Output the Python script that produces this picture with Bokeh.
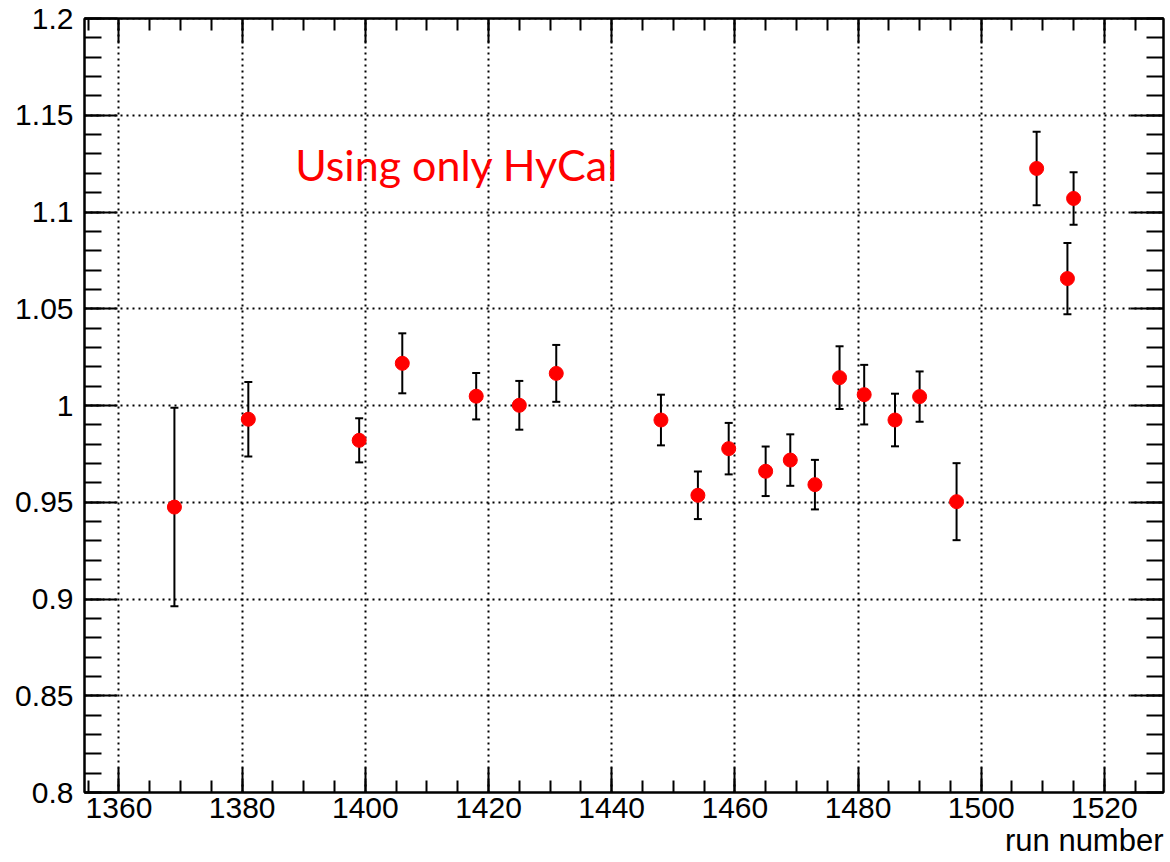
from bokeh.plotting import figure
from bokeh.models import (ColumnDataSource, Whisker, TeeHead, LinearAxis, Range1d,
                          SingleIntervalTicker, Label, Title, CustomJSTickFormatter)
from bokeh.embed import file_html
from bokeh.resources import INLINE

run = [1369, 1381, 1399, 1406, 1418, 1425, 1431, 1448, 1454, 1459, 1465,
       1469, 1473, 1477, 1481, 1486, 1490, 1496, 1509, 1514, 1515]
ratio = [0.9475, 0.9929, 0.9820, 1.0218, 1.0048, 1.0001, 1.0166, 0.9925, 0.9536,
         0.9777, 0.9660, 0.9718, 0.9591, 1.0144, 1.0056, 0.9925, 1.0046, 0.9503,
         1.1225, 1.0656, 1.1070]
err = [0.0513, 0.0192, 0.0114, 0.0155, 0.0120, 0.0126, 0.0147, 0.0131, 0.0123,
       0.0133, 0.0128, 0.0133, 0.0128, 0.0162, 0.0154, 0.0136, 0.0130, 0.0199,
       0.0190, 0.0184, 0.0136]
x_label = "run number"
annotation = "Using only HyCal"

lo = [r - e for r, e in zip(ratio, err)]
hi = [r + e for r, e in zip(ratio, err)]
src = ColumnDataSource(dict(x=run, y=ratio, lo=lo, hi=hi))

span = max(run) - min(run)
xr = Range1d(min(run) - 0.1 * span, max(run) + 0.1 * span)
yr = Range1d(0.8, 1.2 + 1e-9)

p = figure(width=1170, height=862, x_range=xr, y_range=yr,
           output_backend="svg", toolbar_location=None,
           min_border_left=84, min_border_right=7, min_border_top=18,
           min_border_bottom=70, background_fill_color="white",
           border_fill_color="white")
p.outline_line_color = "black"
p.outline_line_width = 2

FONT = "Liberation Sans"
xt = SingleIntervalTicker(interval=20, num_minor_ticks=4)
yt = SingleIntervalTicker(interval=0.05, num_minor_ticks=5)

def style(ax, ticker, tin, minin, labels=True):
    ax.ticker = ticker
    ax.axis_line_color = "black"
    ax.axis_line_width = 2
    ax.major_tick_line_color = "black"
    ax.major_tick_line_width = 2
    ax.minor_tick_line_color = "black"
    ax.minor_tick_line_width = 2
    ax.major_tick_in = tin
    ax.major_tick_out = 0
    ax.minor_tick_in = minin
    ax.minor_tick_out = 0
    ax.major_label_text_font = FONT
    ax.major_label_text_font_size = "30px"
    ax.major_label_text_color = "black"
    if not labels:
        ax.formatter = CustomJSTickFormatter(code="return '';")
        ax.major_label_standoff = 0

style(p.xaxis[0], xt, 25, 12)
p.xaxis[0].major_label_standoff = 5
style(p.yaxis[0], yt, 33, 17)
p.yaxis[0].major_label_standoff = 11

top = LinearAxis()
style(top, SingleIntervalTicker(interval=20, num_minor_ticks=4), 25, 12, labels=False)
p.add_layout(top, "above")
right = LinearAxis()
style(right, SingleIntervalTicker(interval=0.05, num_minor_ticks=5), 33, 17, labels=False)
p.add_layout(right, "right")

p.xgrid.ticker = xt
p.ygrid.ticker = yt
for g in (p.xgrid[0], p.ygrid[0]):
    g.grid_line_color = "black"
    g.grid_line_width = 2
    g.grid_line_dash = "2 4"

wh = Whisker(source=src, base="x", lower="lo", upper="hi",
             line_color="black", line_width=2,
             upper_head=TeeHead(size=8, line_color="black", line_width=2),
             lower_head=TeeHead(size=8, line_color="black", line_width=2))
p.add_layout(wh)
p.scatter("x", "y", source=src, size=14, fill_color="#ff0000",
          line_color="#ff0000", marker="circle")

p.add_layout(Label(x=1388.6, y=1.1245, text=annotation, text_color="#ff0000",
                   text_font="Lato", text_font_size="43px",
                   text_baseline="alphabetic"))

p.add_layout(Title(text=x_label, align="right", text_font=FONT,
                   text_font_size="31px", text_font_style="normal",
                   text_color="black", offset=0, standoff=0), "below")

open("out.html", "w").write(file_html(p, INLINE))
